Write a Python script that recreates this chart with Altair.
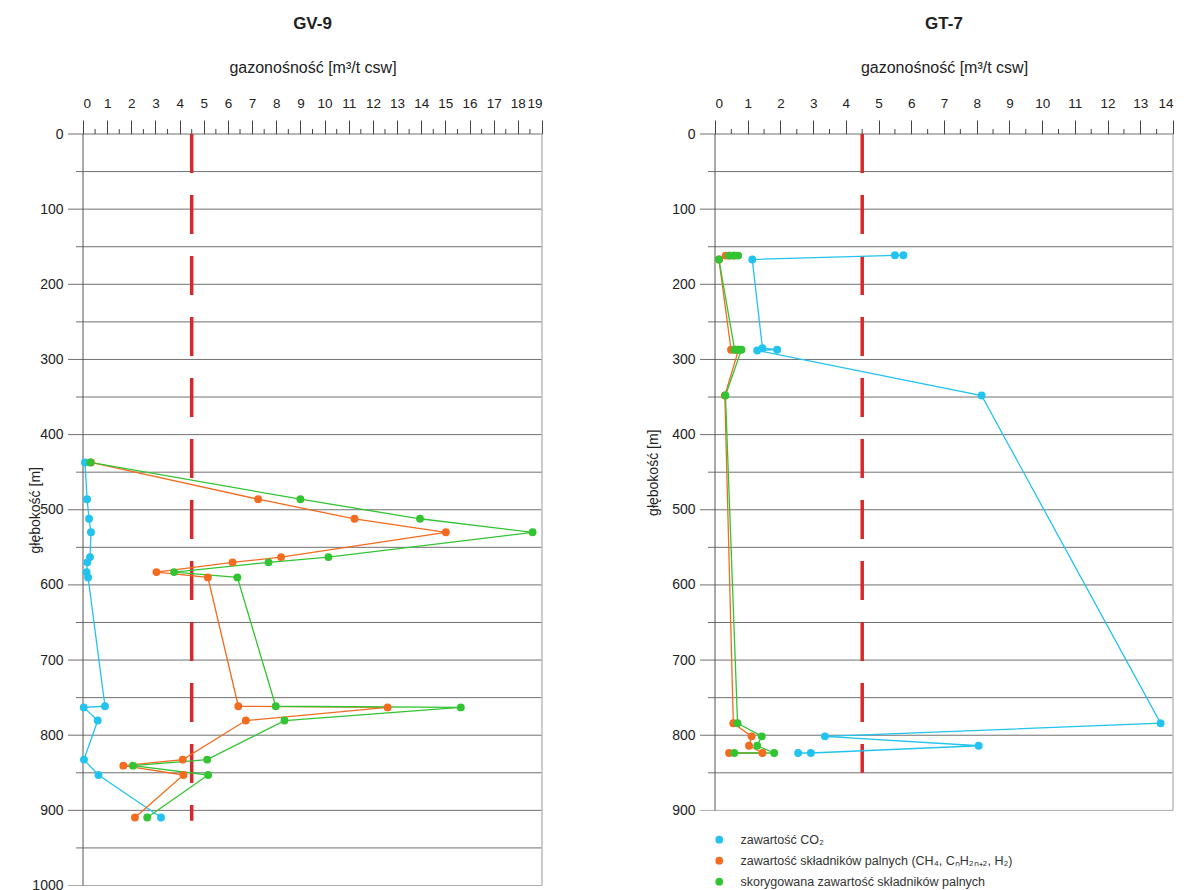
import altair as alt
import pandas as pd

FONT = "Liberation Sans"
SERIES = ["zawartość CO₂",
          "zawartość składników palnych (CH₄, CₙH₂ₙ₊₂, H₂)",
          "skorygowana zawartość składników palnych"]
COLORS = ["#22c3ee", "#f26b1f", "#33c433"]

# ---------------- GV-9 ----------------
gv_co2_depth = [437, 486, 512, 530, 563, 570, 583, 590, 761.5, 763, 780.5, 832.5, 853, 909.5]
gv_co2_val = [0.08, 0.17, 0.25, 0.33, 0.29, 0.18, 0.15, 0.21, 0.91, 0.03, 0.61, 0.04, 0.64, 3.23]

gv_pal_depth = [437, 486, 512, 530, 563, 570, 583, 590, 761.5, 763, 780.5, 832.5, 840.5, 853, 909.5]
gv_pal_val = [0.33, 7.25, 11.24, 15.02, 8.2, 6.19, 3.04, 5.17, 6.43, 12.61, 6.74, 4.13, 1.67, 4.16, 2.15]

gv_kor_depth = [437, 486, 512, 530, 563, 570, 583, 590, 761.5, 763, 780.5, 832.5, 840.5, 853, 909.5]
gv_kor_val = [0.3, 9.0, 13.95, 18.61, 10.16, 7.68, 3.77, 6.39, 7.98, 15.64, 8.34, 5.14, 2.07, 5.18, 2.66]

# ---------------- GT-7 ----------------
gt_co2_depth = [161.4, 161.4, 167, 285, 287, 288, 348, 784, 801.5, 814, 823.6, 823.6]
gt_co2_val = [5.76, 5.5, 1.14, 1.45, 1.9, 1.29, 8.15, 13.62, 3.36, 8.06, 2.93, 2.54]

gt_pal_depth = [161.8, 161.8, 161.8, 167, 287, 287, 287, 348, 784, 801.5, 814, 823.6, 823.6]
gt_pal_val = [0.6, 0.45, 0.33, 0.12, 0.49, 0.62, 0.72, 0.3, 0.56, 1.12, 1.04, 1.45, 0.43]

gt_kor_depth = [161.8, 161.8, 161.8, 167, 287, 287, 287, 348, 784, 801.5, 814, 823.6, 823.6]
gt_kor_val = [0.71, 0.56, 0.43, 0.12, 0.6, 0.7, 0.81, 0.32, 0.69, 1.43, 1.29, 1.81, 0.59]

THRESHOLD = 4.5


def series_df(depths, vals, name):
    return pd.DataFrame({"depth": depths, "val": vals, "series": name,
                         "seq": list(range(len(depths)))})


def panel(title, frames, xmax, ymax, red_end, width, height, title_x, show_legend):
    data = pd.concat(frames, ignore_index=True)
    xscale = alt.Scale(domain=[0, xmax], nice=False, zero=False)
    yscale = alt.Scale(domain=[0, ymax], nice=False, zero=False, reverse=True)
    xaxis = alt.Axis(orient="top", values=list(range(0, xmax + 1)), tickSize=14,
                     tickColor="#444444", tickWidth=1, domain=False, grid=False,
                     labelPadding=10, labelFontSize=13.5, labelColor="#222222", format="d",
                     title="gazonośność [m³/t csw]", titleFontSize=16,
                     titleFontWeight="normal", titleColor="#222222", titlePadding=20.5)
    yaxis = alt.Axis(values=list(range(0, ymax + 1, 100)), ticks=False, domain=False,
                     grid=False, labelPadding=20, labelFontSize=14, labelColor="#222222",
                     format="d",
                     title="głębokość [m]", titleFontSize=14, titleFontWeight="normal",
                     titleColor="#222222", titleX=title_x, titleY=height / 2,
                     titleBaseline="middle", titleAngle=270)

    def X(field, t="Q"):
        return alt.X(f"{field}:{t}", scale=xscale, axis=xaxis)

    def Y(field, t="Q"):
        return alt.Y(f"{field}:{t}", scale=yscale, axis=yaxis)

    majors = pd.DataFrame({"d": list(range(0, ymax, 100))})
    minors = pd.DataFrame({"d": list(range(50, ymax, 100))})
    bottom = pd.DataFrame({"d": [ymax]})
    halves = pd.DataFrame({"h": [i + 0.5 for i in range(0, xmax)]})
    border = pd.DataFrame({"x": [xmax]})
    leftax = pd.DataFrame({"x": [0]})
    red = pd.DataFrame({"x": [THRESHOLD], "y0": [0], "y1": [red_end]})

    grid_major = alt.Chart(majors).mark_rule(color="#707070", strokeWidth=1).encode(
        y=Y("d"), x=alt.value(-15), x2=alt.value(width))
    grid_minor = alt.Chart(minors).mark_rule(color="#707070", strokeWidth=1).encode(
        y=Y("d"), x=alt.value(-7), x2=alt.value(width))
    grid_bottom = alt.Chart(bottom).mark_rule(color="#ababab", strokeWidth=1).encode(
        y=Y("d"), x=alt.value(-15), x2=alt.value(width))
    right_border = alt.Chart(border).mark_rule(color="#bbbbbb", strokeWidth=1.5).encode(
        x=X("x"), y=alt.value(0), y2=alt.value(height))
    left_axis = alt.Chart(leftax).mark_rule(color="#555555", strokeWidth=1).encode(
        x=X("x"), y=alt.value(0), y2=alt.value(height))
    half_ticks = alt.Chart(halves).mark_rule(color="#444444", strokeWidth=1).encode(
        x=X("h"), y=alt.value(0), y2=alt.value(-5))
    red_line = alt.Chart(red).mark_rule(color="#d62a2a", strokeWidth=3.5,
                                        strokeDash=[39, 22]).encode(
        x=X("x"), y=Y("y0"), y2="y1:Q")

    if show_legend:
        legend = alt.Legend(orient="none", legendX=-2, legendY=height + 23, title=None,
                            labelFontSize=12.5, labelColor="#333333", labelLimit=500,
                            symbolType="circle", symbolSize=60, symbolStrokeWidth=0,
                            labelOffset=15, rowPadding=8, padding=0)
    else:
        legend = None
    color = alt.Color("series:N", scale=alt.Scale(domain=SERIES, range=COLORS),
                      legend=legend, sort=SERIES)

    lines = alt.Chart(data).mark_line(strokeWidth=1.3).encode(
        x=X("val"), y=Y("depth"), color=color, order="seq:Q")
    points = alt.Chart(data).mark_circle(size=62, opacity=1).encode(
        x=X("val"), y=Y("depth"), color=color)

    return alt.layer(grid_major, grid_minor, grid_bottom, right_border, left_axis,
                     half_ticks, red_line, lines, points).properties(
        width=width, height=height,
        title=alt.TitleParams(title, fontSize=17, fontWeight="bold", color="#222222",
                              offset=27, anchor="middle"))


gv = panel("GV-9",
           [series_df(gv_co2_depth, gv_co2_val, SERIES[0]),
            series_df(gv_pal_depth, gv_pal_val, SERIES[1]),
            series_df(gv_kor_depth, gv_kor_val, SERIES[2])],
           19, 1000, 914, 459, 751.5, -48, False)

gt = panel("GT-7",
           [series_df(gt_co2_depth, gt_co2_val, SERIES[0]),
            series_df(gt_pal_depth, gt_pal_val, SERIES[1]),
            series_df(gt_kor_depth, gt_kor_val, SERIES[2])],
           14, 900, 850, 458, 676.4, -62, True)

chart = alt.hconcat(gv, gt, spacing=103).resolve_scale(
    color="independent", x="independent", y="independent").properties(
    padding={"left": 20, "top": 6, "right": 5, "bottom": 0}).configure(
    font=FONT).configure_view(stroke=None)

chart.save("out.html", embed_options={"renderer": "svg", "actions": False})
